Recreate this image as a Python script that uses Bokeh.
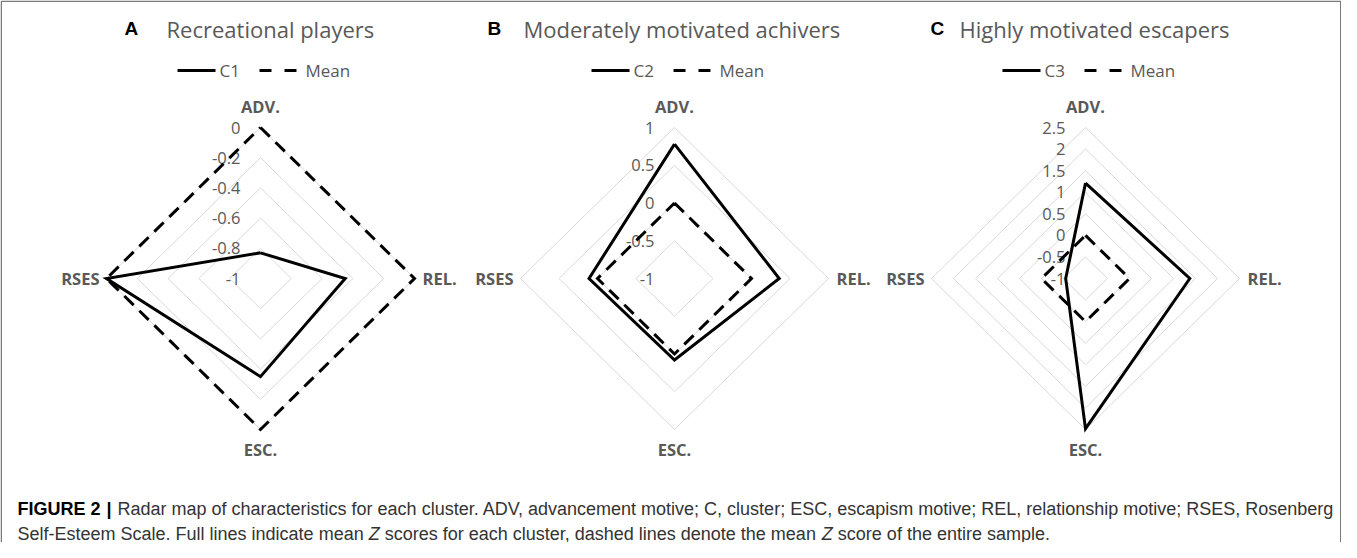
from bokeh.plotting import figure
from bokeh.models import Range1d
from bokeh.embed import file_html
from bokeh.resources import INLINE
from bokeh.core.properties import value

# ---------------- data ----------------
axis_names = ["ADV.", "REL.", "ESC.", "RSES"]
panel_letters = ["A", "B", "C"]
panel_titles = ["Recreational players", "Moderately motivated achivers", "Highly motivated escapers"]
cluster_names = ["C1", "C2", "C3"]

c1_values = [-0.83, -0.45, -0.35, 0.0]
c2_values = [0.78, 0.36, 0.08, 0.11]
c3_values = [1.21, 1.37, 2.48, -0.55]
mean_values = [0.0, 0.0, 0.0, 0.0]

a_ticks = [0, -0.2, -0.4, -0.6, -0.8, -1]
b_ticks = [1, 0.5, 0, -0.5, -1]
c_ticks = [2.5, 2, 1.5, 1, 0.5, 0, -0.5, -1]
a_tick_labels = ["0", "-0.2", "-0.4", "-0.6", "-0.8", "-1"]
b_tick_labels = ["1", "0.5", "0", "-0.5", "-1"]
c_tick_labels = ["2.5", "2", "1.5", "1", "0.5", "0", "-0.5", "-1"]

caption_bold = "FIGURE 2"
caption_line1 = ("Radar map of characteristics for each cluster. ADV, advancement motive; C, cluster; "
                 "ESC, escapism motive; REL, relationship motive; RSES, Rosenberg")
caption_line2_parts = ["Self-Esteem Scale. Full lines indicate mean", "Z",
                       "scores for each cluster, dashed lines denote the mean", "Z",
                       "score of the entire sample."]

# ---------------- layout ----------------
W, H = 1341, 542
centers_x = [260, 674, 1085]
center_y = 278
RX, RY = 154, 151
letter_dx = [-136, -187, -155]
title_dx = [-94, -151, -126]

GRAY = "#595959"
GRID = "#d9d9d9"
FONT = "Open Sans"
CAP_FONT = "Liberation Sans"
CAP_SIZE = 18

# Arial / Liberation Sans advance widths (1/1000 em) for caption layout
_AW = {' ': 278, ',': 278, '-': 333, '.': 278, ';': 278}
for ch in "0123456789":
    _AW[ch] = 556
_AW.update(dict(zip("ABCDEFGHIJKLMNOPQRSTUVWXYZ",
                    [667, 667, 722, 722, 667, 611, 778, 722, 278, 500, 667, 556, 833,
                     722, 778, 667, 778, 722, 667, 611, 722, 667, 944, 667, 667, 611])))
_AW.update(dict(zip("abcdefghijklmnopqrstuvwxyz",
                    [556, 556, 500, 556, 556, 278, 556, 556, 222, 222, 500, 222, 833,
                     556, 556, 556, 556, 333, 500, 278, 556, 500, 722, 500, 500, 500])))


def text_width(s, size):
    return sum(_AW.get(ch, 556) for ch in s) / 1000.0 * size


p = figure(width=W, height=H, x_range=Range1d(0, W), y_range=Range1d(H, 0),
           output_backend="svg", toolbar_location=None, min_border=0)
p.axis.visible = False
p.grid.visible = False
p.outline_line_color = None
p.background_fill_color = "white"
p.border_fill_color = "white"

# frame (left, top, right)
p.line([0.75, 0.75, W - 0.75, W - 0.75], [H, 0.75, 0.75, H], line_color="#7a7a7a", line_width=1.5)

dirs = [(0, -1), (1, 0), (0, 1), (-1, 0)]


def pos(cx, v, vmin, vmax, k):
    f = (v - vmin) / (vmax - vmin)
    dx, dy = dirs[k]
    return cx + dx * f * RX, center_y + dy * f * RY


panels = [
    (c1_values, a_ticks, a_tick_labels),
    (c2_values, b_ticks, b_tick_labels),
    (c3_values, c_ticks, c_tick_labels),
]

for i, (vals, ticks, tlabels) in enumerate(panels):
    cx = centers_x[i]
    vmin, vmax = min(ticks), max(ticks)

    # grid rings
    for t in ticks:
        if t == vmin:
            continue
        pts = [pos(cx, t, vmin, vmax, k) for k in range(4)]
        pts.append(pts[0])
        p.line([q[0] for q in pts], [q[1] for q in pts], line_color=GRID, line_width=1)

    # tick labels
    ty = [pos(cx, t, vmin, vmax, 0)[1] for t in ticks]
    p.text([cx - 20] * len(ticks), ty, text=tlabels, text_font=value(FONT),
           text_font_size=value("16.5px"), text_color=GRAY, text_align="right",
           text_baseline="middle")

    # axis labels
    lab_kw = dict(text_font=value(FONT), text_font_size=value("16.5px"), text_font_style="bold",
                  text_color=GRAY, text_baseline="middle")
    p.text([cx], [center_y - RY - 21], text=[axis_names[0]], text_align="center", **lab_kw)
    p.text([cx + RX + 8], [center_y], text=[axis_names[1]], text_align="left", **lab_kw)
    p.text([cx], [center_y + RY + 20], text=[axis_names[2]], text_align="center", **lab_kw)
    p.text([cx - RX - 7], [center_y], text=[axis_names[3]], text_align="right", **lab_kw)

    # mean (dashed)
    mp = [pos(cx, v, vmin, vmax, k) for k, v in enumerate(mean_values)]
    mp.append(mp[0])
    p.line([q[0] for q in mp], [q[1] for q in mp], line_color="black", line_width=3,
           line_dash="13 8", line_join="miter", line_cap="butt")

    # cluster (solid)
    cp = [pos(cx, v, vmin, vmax, k) for k, v in enumerate(vals)]
    cp.append(cp[0])
    p.line([q[0] for q in cp], [q[1] for q in cp], line_color="black", line_width=3,
           line_join="miter")

    # titles
    p.text([cx + letter_dx[i]], [28], text=[panel_letters[i]], text_font=value("Liberation Sans"),
           text_font_size=value("19px"), text_font_style="bold", text_color="black",
           text_align="left", text_baseline="middle")
    p.text([cx + title_dx[i]], [28], text=[panel_titles[i]], text_font=value(FONT),
           text_font_size=value("22px"), text_color=GRAY, text_align="left",
           text_baseline="middle")

    # legend
    ly = 70
    p.line([cx - 83, cx - 45], [ly, ly], line_color="black", line_width=3)
    p.text([cx - 41], [ly], text=[cluster_names[i]], text_font=value(FONT),
           text_font_size=value("17px"), text_color=GRAY, text_align="left",
           text_baseline="middle")
    p.line([cx - 1, cx + 36], [ly, ly], line_color="black", line_width=3, line_dash="12 13",
           line_cap="butt")
    p.text([cx + 45], [ly], text=["Mean"], text_font=value(FONT),
           text_font_size=value("17px"), text_color=GRAY, text_align="left",
           text_baseline="middle")

# caption
cap_y1, cap_y2 = 508, 533
cap_kw = dict(text_font=value(CAP_FONT), text_font_size=value("%dpx" % CAP_SIZE),
              text_align="left", text_baseline="middle")
p.text([17], [cap_y1], text=[caption_bold], text_font_style="bold", text_color="black", **cap_kw)
p.text([106], [cap_y1], text=["|"], text_font_style="bold", text_color="black", **cap_kw)
p.text([117], [cap_y1], text=[caption_line1], text_color="#333333", **cap_kw)
x = 17.0
space_w = text_width(" ", CAP_SIZE)
for part in caption_line2_parts:
    italic = part == "Z"
    p.text([x], [cap_y2], text=[part], text_color="#333333",
           text_font_style="italic" if italic else "normal", **cap_kw)
    x += text_width(part, CAP_SIZE) + space_w

open("out.html", "w").write(file_html(p, INLINE))
